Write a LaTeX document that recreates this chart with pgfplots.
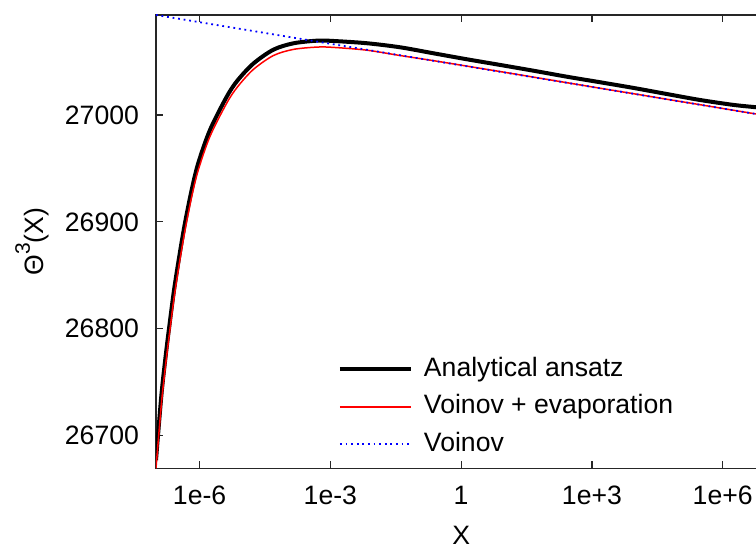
\documentclass[border=0pt]{standalone}
\usepackage{fontspec}
\setmainfont{Liberation Sans}
\usepackage{pgfplots}
\pgfplotsset{compat=1.18}

% Black: analytical ansatz
\pgfplotstableread{
X          T
1e-7       26677
1.111e-7   26700
1.352e-7   26741
1.671e-7   26775
1.986e-7   26800
2.588e-7   26836
3.428e-7   26868
4.624e-7   26899
6.592e-7   26930
9.333e-7   26955
1.734e-6   26986
4.188e-6   27017
7.328e-6   27032
1.706e-5   27048
4.909e-5   27061
1.413e-4   27067
5.012e-4   27069.5
1.169e-3   27069.2
6.823e-3   27067.1
3.963e-2   27063.3
0.2301     27057.7
1.343      27052.1
7.798      27046.8
45.29      27041.4
264.2      27035.8
1535       27030.6
8913       27025.3
5.2e4      27019.6
3.02e5     27014.0
1.754e6    27009.4
5.821e6    27007.2
1e7        27006
}\ansatz

% Red: Voinov + evaporation
\pgfplotstableread{
X          T
1e-7       26669.5
1.111e-7   26692
1.352e-7   26733
1.671e-7   26767
1.986e-7   26792
2.588e-7   26828.5
3.428e-7   26861
4.624e-7   26892
6.592e-7   26923.5
9.333e-7   26948.5
1.734e-6   26980
4.188e-6   27011
7.328e-6   27026
1.706e-5   27042.5
4.909e-5   27055.5
1.413e-4   27061.3
5.012e-4   27063.5
1.169e-3   27063.2
6.823e-3   27060.6
3.963e-2   27055.6
0.2301     27050.8
1.343      27045.7
7.798      27040.6
45.29      27035.4
264.2      27030.2
1535       27025.0
8913       27019.9
5.2e4      27014.7
3.02e5     27009.6
1.754e6    27004.4
5.821e6    27000.9
1e7        26999.3
}\evap

% Blue: Voinov (straight line in log X)
\pgfplotstableread{
X          T
1e-7       27093.5
1e7        26999.3
}\voinov

\begin{document}
\begin{tikzpicture}
\begin{axis}[
  name=main,
  scale only axis,
  width=305.15pt, height=226.65pt,
  xmode=log,
  xmin=1e-7, xmax=1e7,
  ymin=26669.5, ymax=27093.5,
  xtick={1e-6,1e-3,1,1e3,1e6},
  xticklabels={1e-6,1e-3,1,1e+3,1e+6},
  ytick={26700,26800,26900,27000},
  yticklabels={26700,26800,26900,27000},
  scaled y ticks=false,
  xminorticks=false, yminorticks=false,
  tick align=inside,
  major tick length=3.6pt,
  axis line style={line width=0.6pt, black!85},
  every tick/.style={black!85, line width=0.6pt},
  ticklabel style={font=\fontsize{13.3}{15}\selectfont},
  xticklabel style={yshift=-5.5pt},
  yticklabel style={xshift=-5pt},
  label style={font=\fontsize{13.3}{15}\selectfont},
  xlabel={X},
  ylabel={Θ\raisebox{0.5em}{\fontsize{10.5}{10.5}\selectfont 3}(X)},
  xlabel style={at={(axis description cs:0.5,-0.1469)}, anchor=center},
  ylabel style={at={(axis description cs:-0.2032,0.5)}, anchor=center},
  legend cell align=left,
  legend image code/.code={\draw[#1] (0pt,0pt) -- (35.5pt,0pt);},
  legend style={
    draw=none, fill=none,
    at={(axis description cs:0.2982,0.2470)}, anchor=north west,
    inner sep=0pt, outer sep=0pt,
    row sep=5.75pt, column sep=5.5pt,
    font=\fontsize{13.3}{15}\selectfont,
    nodes={inner sep=0pt, text height=10pt, text depth=3pt},
  },
]
\addplot[black, line width=2pt, smooth, tension=0.5] table[x=X, y=T] {\ansatz};
\addlegendentry{Analytical ansatz}
\addplot[red, line width=0.75pt, smooth, tension=0.5] table[x=X, y=T] {\evap};
\addlegendentry{Voinov + evaporation}
\addplot[blue, line width=0.9pt, dash pattern=on 0.9pt off 1.9pt] table[x=X, y=T] {\voinov};
\addlegendentry{Voinov}
\end{axis}
\pgfresetboundingbox
\path[use as bounding box]
  ([xshift=-78pt,yshift=-40.35pt]main.south west)
  rectangle ([xshift=300pt,yshift=7.5pt]main.north west);
\end{tikzpicture}
\end{document}
